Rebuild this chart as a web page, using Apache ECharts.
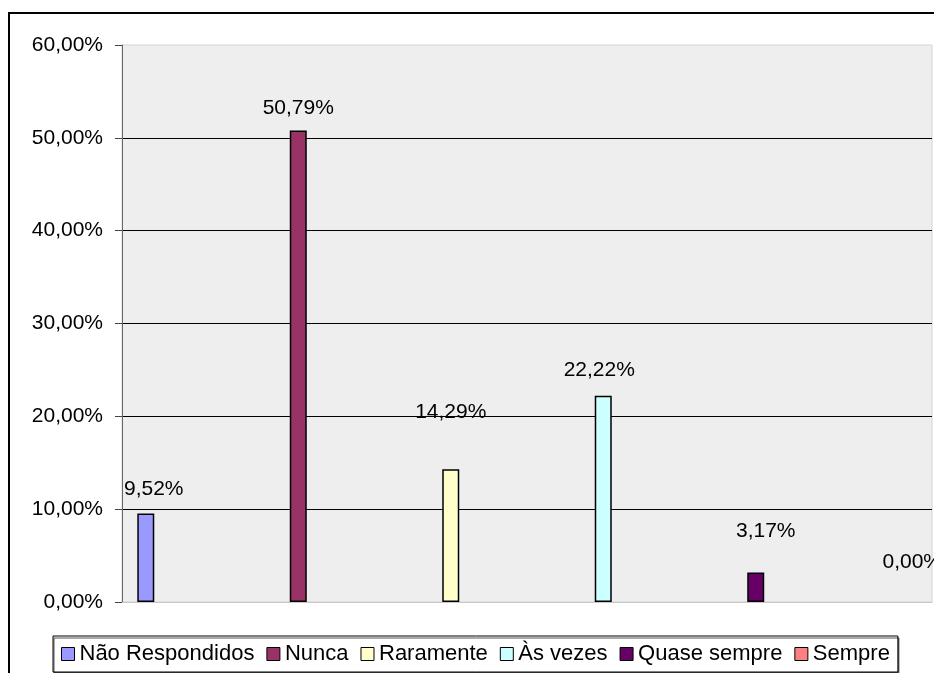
<!DOCTYPE html>
<html>
<head>
<meta charset="utf-8">
<script src="https://cdn.jsdelivr.net/npm/echarts@6/dist/echarts.min.js"></script>
<style>
html,body{margin:0;padding:0;background:#fff;}
#chart{width:934px;height:673px;}
</style>
</head>
<body>
<div id="chart"></div>
<script>
// ---- data ----
var seriesNames = ['Não Respondidos', 'Nunca', 'Raramente', 'Às vezes', 'Quase sempre', 'Sempre'];
var seriesValues = [9.52, 50.79, 14.29, 22.22, 3.17, 0.00];
var yTicks = [0, 10, 20, 30, 40, 50, 60];

// ---- styles ----
var colors = ['#9999FF', '#993366', '#FFFFCC', '#CCFFFF', '#660066', '#FF8080'];
var labelOffsets = [[8, -14], [0, -12], [0, -47], [-4, -15], [10, -31], [4, -29]];
var FONT = 'Liberation Sans, Arial, sans-serif';

function pct(v) { return v.toFixed(2).replace('.', ',') + '%'; }

var chart = echarts.init(document.getElementById('chart'), null, {renderer: 'canvas'});

var series = seriesNames.map(function (name, i) {
  return {
    name: name,
    type: 'bar',
    data: [seriesValues[i]],
    barWidth: 17,
    barGap: '797%',
    itemStyle: {
      color: colors[i],
      borderColor: '#000',
      borderWidth: seriesValues[i] === 0 ? 0 : 1.5
    },
    label: {
      show: true,
      position: 'top',
      distance: 0,
      offset: labelOffsets[i],
      formatter: function (p) { return pct(p.value); },
      color: '#000',
      fontFamily: FONT,
      fontSize: 21
    },
    emphasis: {disabled: true},
    animation: false
  };
});

chart.setOption({
  backgroundColor: '#fff',
  animation: false,
  graphic: [{
    type: 'rect',
    shape: {x: 9, y: 13, width: 1000, height: 1000},
    style: {fill: 'none', stroke: '#000', lineWidth: 2},
    silent: true,
    z: 100
  }],
  grid: {
    left: 122, top: 45, right: 2, bottom: 71,
    show: true,
    backgroundColor: '#EEEEEE',
    borderColor: '#D4D4D4',
    borderWidth: 1
  },
  legend: {
    left: 53, top: 636,
    padding: [7, 8],
    itemWidth: 13, itemHeight: 13, itemGap: 12,
    icon: 'rect',
    backgroundColor: '#fff',
    borderColor: '#000',
    borderWidth: 1,
    shadowColor: '#555',
    shadowBlur: 0,
    shadowOffsetX: 1,
    shadowOffsetY: 2,
    textStyle: {fontFamily: FONT, fontSize: 22, color: '#000'},
    data: seriesNames.map(function (n, i) {
      return {name: n, itemStyle: {color: colors[i], borderColor: '#000', borderWidth: 1}};
    }),
    selectedMode: false
  },
  xAxis: {
    type: 'category',
    data: [''],
    axisLine: {show: true, lineStyle: {color: '#C8C8C8', width: 1}},
    axisTick: {show: false},
    axisLabel: {show: false},
    splitLine: {show: false}
  },
  yAxis: {
    type: 'value',
    min: yTicks[0],
    max: yTicks[yTicks.length - 1],
    interval: yTicks[1] - yTicks[0],
    axisLine: {show: true, lineStyle: {color: '#666', width: 1}},
    axisTick: {show: true, inside: false, length: 7, lineStyle: {color: '#444'}},
    axisLabel: {
      margin: 19,
      color: '#000',
      fontFamily: FONT,
      fontSize: 21,
      formatter: function (v) { return pct(v); }
    },
    splitLine: {show: true, showMinLine: false, showMaxLine: false, lineStyle: {color: '#000', width: 1}}
  },
  series: series
});
</script>
</body>
</html>
